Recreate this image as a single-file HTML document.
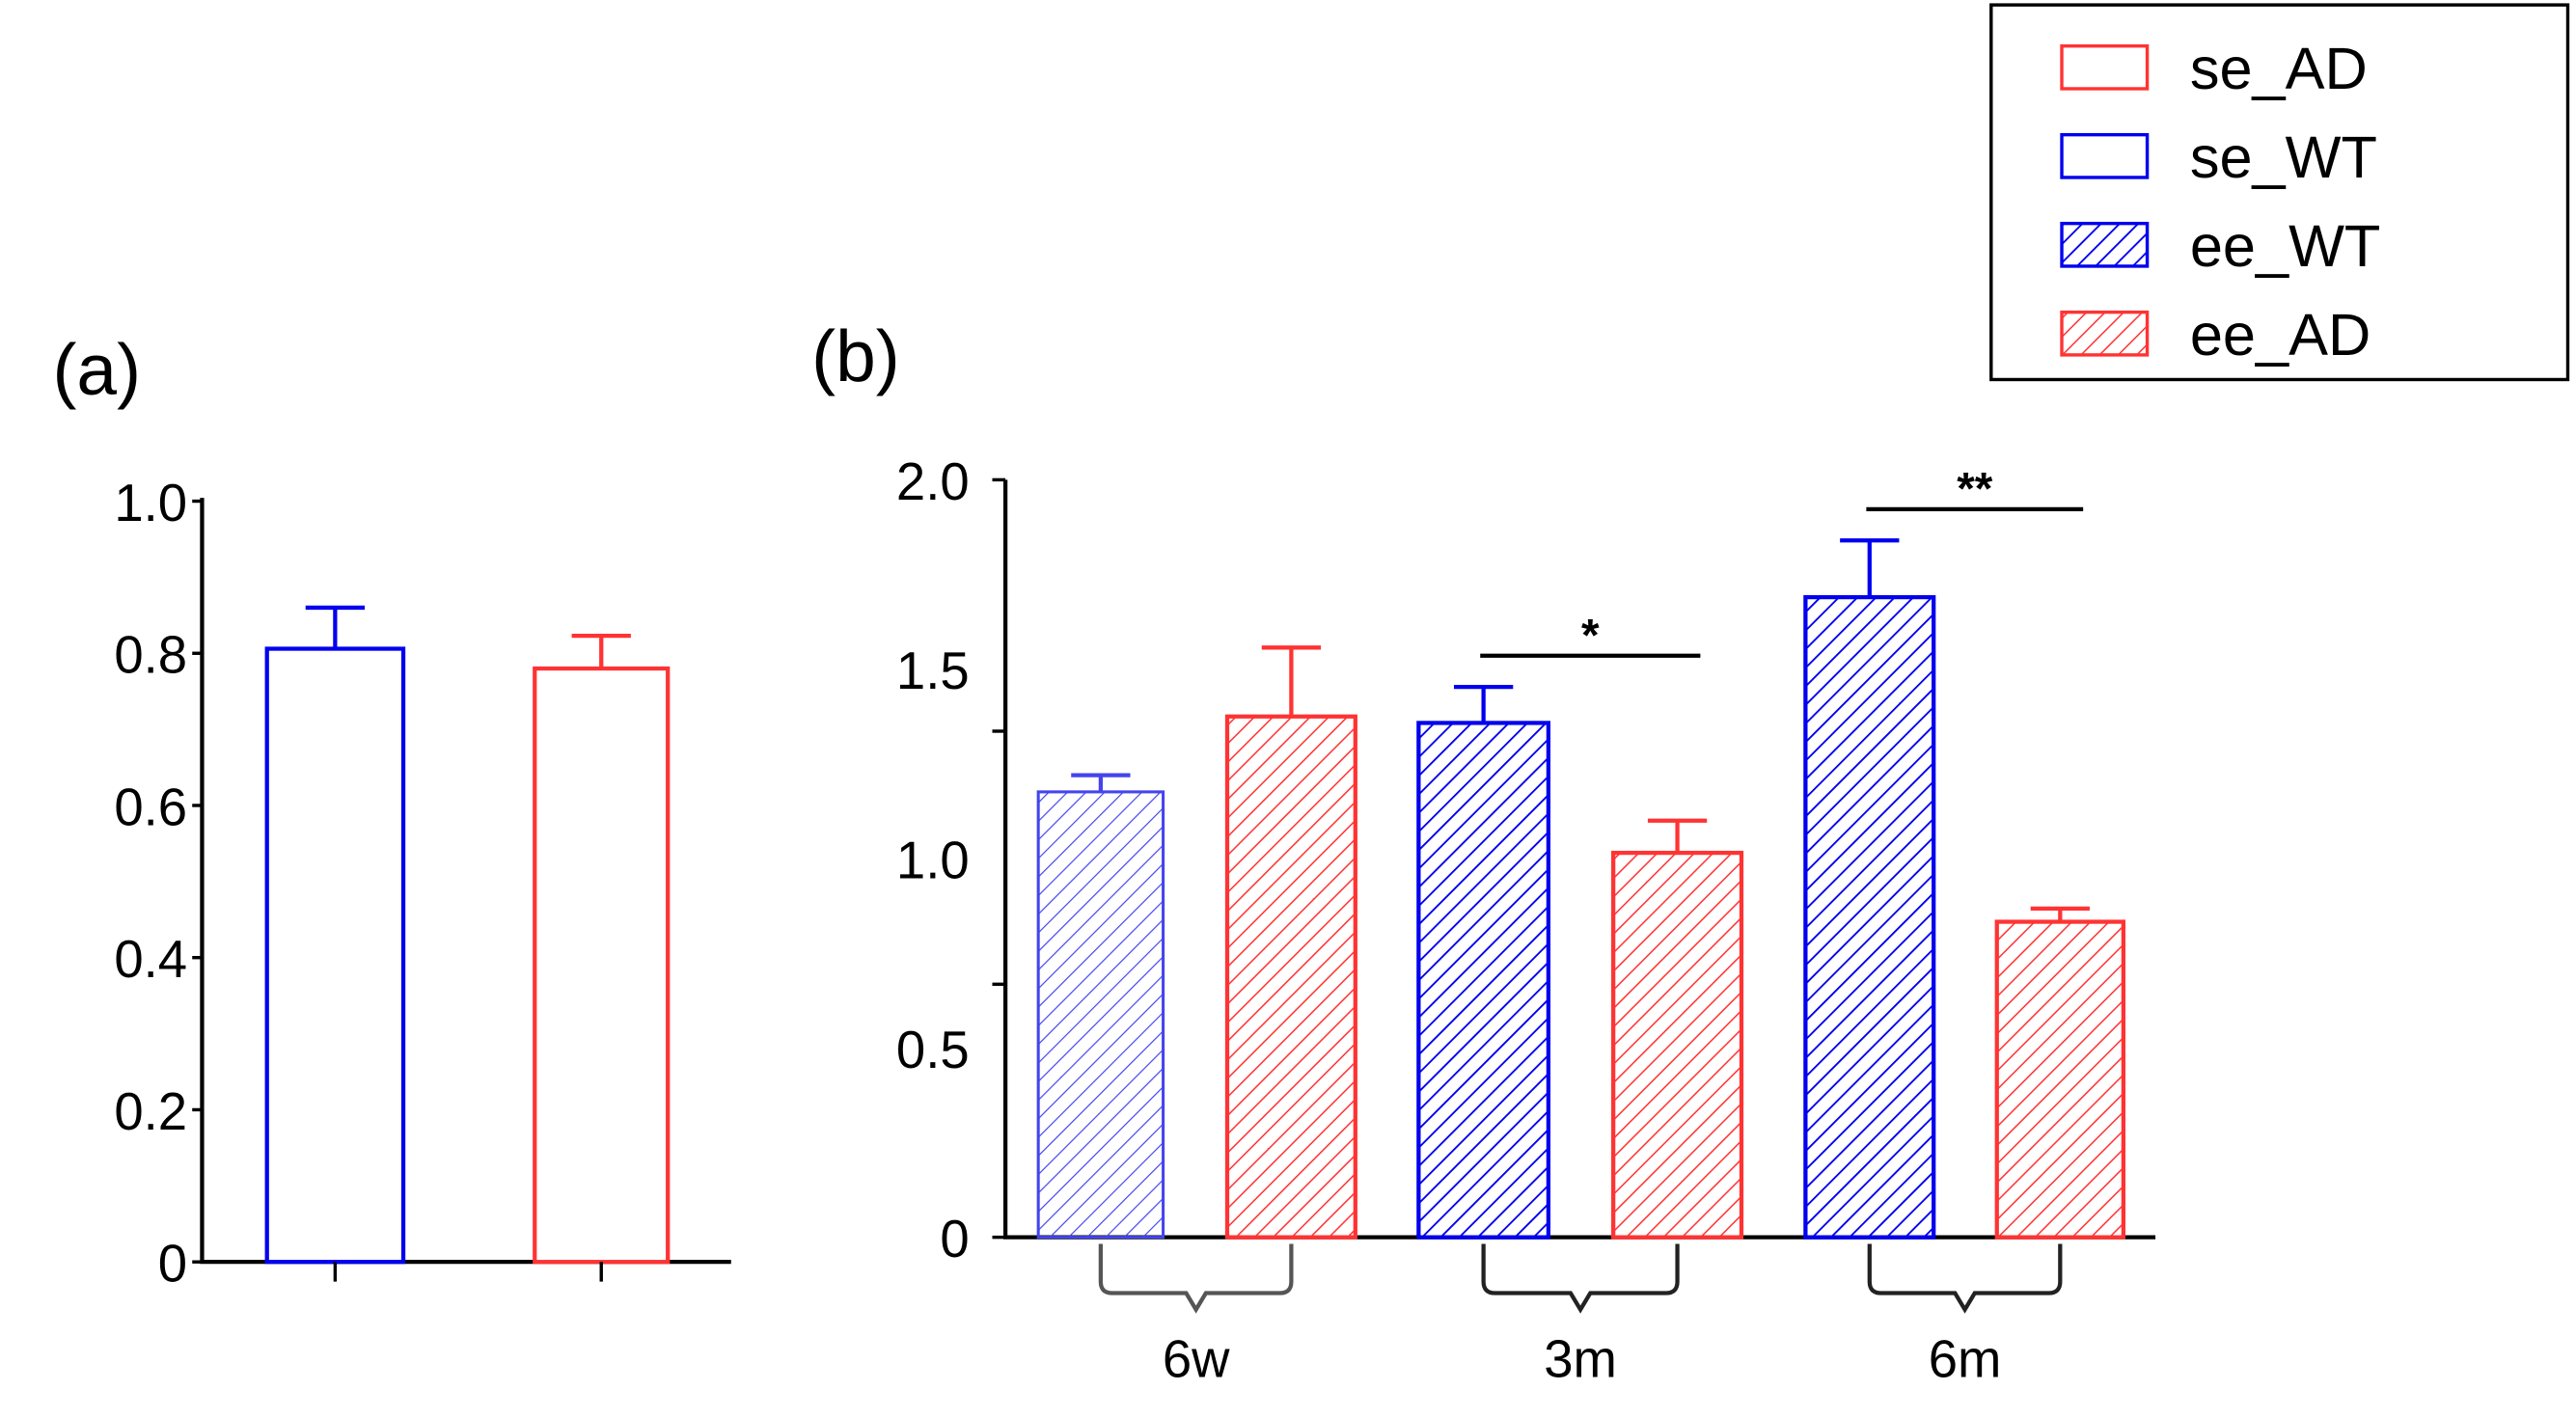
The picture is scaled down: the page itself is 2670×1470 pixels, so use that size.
<!DOCTYPE html>
<html><head><meta charset="utf-8"><style>
html,body{margin:0;padding:0;background:#fff;width:2670px;height:1470px;overflow:hidden}
svg{display:block}
text{font-family:"Liberation Sans",Arial,sans-serif;fill:#000}
</style></head><body>
<svg id="fig" width="2670" height="1470" viewBox="0 0 1568 863" preserveAspectRatio="none" xmlns="http://www.w3.org/2000/svg">
<defs>
<pattern id="hb" patternUnits="userSpaceOnUse" width="8" height="8" patternTransform="rotate(45)"><line x1="0" y1="0" x2="0" y2="8" stroke="#0000ee" stroke-width="2.2"/></pattern>
<pattern id="hbl" patternUnits="userSpaceOnUse" width="8" height="8" patternTransform="rotate(45)"><line x1="0" y1="0" x2="0" y2="8" stroke="#4444ee" stroke-width="1.4"/></pattern>
<pattern id="hr" patternUnits="userSpaceOnUse" width="8" height="8" patternTransform="rotate(45)"><line x1="0" y1="0" x2="0" y2="8" stroke="#ff3333" stroke-width="1.8"/></pattern>
</defs>
<g id="legend">
<rect x="1212" y="3" width="351" height="228" fill="#fff" stroke="#000" stroke-width="2"/>
<g><rect x="1255" y="28" width="52" height="26" fill="#fff" stroke="#ff3333" stroke-width="2"/><text x="1333" y="54" font-size="36">se_AD</text></g>
<g><rect x="1255" y="82" width="52" height="26" fill="#fff" stroke="#0000ee" stroke-width="2"/><text x="1333" y="108" font-size="36">se_WT</text></g>
<g><rect x="1255" y="136" width="52" height="26" fill="url(#hb)" stroke="#0000ee" stroke-width="2"/><text x="1333" y="162" font-size="36">ee_WT</text></g>
<g><rect x="1255" y="190" width="52" height="26" fill="url(#hr)" stroke="#ff3333" stroke-width="2"/><text x="1333" y="216" font-size="36">ee_AD</text></g>
</g>
<text x="32" y="240" font-size="44">(a)</text>
<text x="494" y="232" font-size="44">(b)</text>
<g id="ca"></g>
<g id="cb"></g>
</svg>
<script>
// Panel (a)
const aCats = ['se_WT','se_AD'];
const aVals = [0.806, 0.78];
const aErr = [0.86, 0.823];
const aTicks = [0, 0.2, 0.4, 0.6, 0.8, 1.0];
const aTickLabels = ['0','0.2','0.4','0.6','0.8','1.0'];
// Panel (b)
const bCats = ['6w_WT','6w_AD','3m_WT','3m_AD','6m_WT','6m_AD'];
const bVals = [1.176, 1.375, 1.358, 1.015, 1.69, 0.833];
const bErr = [1.22, 1.557, 1.453, 1.10, 1.84, 0.868];
const bGroups = ['6w','3m','6m'];
const bTicks = [0, 0.5, 1.0, 1.5, 2.0];
const bTickLabels = ['0','0.5','1.0','1.5','2.0'];
const bSig = ['','*','**'];

const NS='http://www.w3.org/2000/svg';
function mk(p,tag,at){const e=document.createElementNS(NS,tag);for(const k in at)e.setAttribute(k,at[k]);p.appendChild(e);return e;}

// panel a
const ga=document.getElementById('ca');
const ya=v=>768-v*463;
const xa=i=>204+i*162;
const aAxis=mk(ga,'path',{d:'M123,303 V768 H445',fill:'none',stroke:'#000','stroke-width':2.5});


aTicks.forEach((t,i)=>{
  mk(ga,'line',{x1:117,x2:123,y1:ya(t),y2:ya(t),stroke:'#000','stroke-width':2});
  const tx=mk(ga,'text',{x:114,y:ya(t)+12,'font-size':32,'text-anchor':'end'});
  tx.textContent=aTickLabels[i];
  
  
});
aCats.forEach((c,i)=>{
  const col=i===0?'#0000ee':'#ff3333';
  const w=i===0?83:81;
  const cx=xa(i);
  const r=mk(ga,'rect',{x:cx-w/2,y:ya(aVals[i]),width:w,height:768-ya(aVals[i]),fill:'#fff',stroke:col,'stroke-width':2.5});
  
  
  mk(ga,'path',{d:`M${cx},${ya(aVals[i])} V${ya(aErr[i])} M${cx-18},${ya(aErr[i])} H${cx+18}`,stroke:col,'stroke-width':2.5,fill:'none'});
  mk(ga,'line',{x1:cx,x2:cx,y1:768,y2:780,stroke:'#000','stroke-width':2});
});

// panel b
const gb=document.getElementById('cb');
const yb=v=>753-v*230.5;
const bx=[670,786,903,1021,1138,1254];
const bw=[76,78,79,78,78,77];
const bAxis=mk(gb,'path',{d:'M612,292 V753 H1312',fill:'none',stroke:'#000','stroke-width':2.5});


[292,445,599,753].forEach(y=>mk(gb,'line',{x1:604,x2:612,y1:y,y2:y,stroke:'#000','stroke-width':2}));
bTicks.forEach((t,i)=>{
  const tx=mk(gb,'text',{x:590,y:yb(t)+12,'font-size':32,'text-anchor':'end'});
  tx.textContent=bTickLabels[i];
  
  
});
bCats.forEach((c,i)=>{
  const wt=i%2===0;
  const col=wt?'#0000ee':'#ff3333';
  const fill=i===0?'url(#hbl)':(wt?'url(#hb)':'url(#hr)');
  const cx=bx[i],w=bw[i];
  const r=mk(gb,'rect',{x:cx-w/2,y:yb(bVals[i]),width:w,height:753-yb(bVals[i]),fill:fill,stroke:i===0?'#4444ee':col,'stroke-width':i===0?1.8:2.5});
  
  
  mk(gb,'path',{d:`M${cx},${yb(bVals[i])} V${yb(bErr[i])} M${cx-18},${yb(bErr[i])} H${cx+18}`,stroke:i===0?'#4444ee':col,'stroke-width':2.5,fill:'none'});
});
bGroups.forEach((g,k)=>{
  const x1=bx[2*k],x2=bx[2*k+1],m=(x1+x2)/2;
  const br=mk(gb,'path',{d:`M${x1},757 V780 Q${x1},787 ${x1+7},787 H${m-6} L${m},797 L${m+6},787 H${x2-7} Q${x2},787 ${x2},780 V757`,fill:'none',stroke:k===0?'#555':'#222','stroke-width':2.5});
  
  
  const t=mk(gb,'text',{x:m,y:838,'font-size':32,'text-anchor':'middle'});
  t.textContent=g;
  
  
  if(bSig[k]){
    const maxE=Math.max(bErr[2*k],bErr[2*k+1]);
    const ly=yb(maxE)-19;
    mk(gb,'line',{x1:x1-2,x2:x2+14,y1:ly,y2:ly,stroke:'#000','stroke-width':2.5});
    const s=mk(gb,'text',{x:m+6,y:ly-3,'font-size':28,'text-anchor':'middle','font-weight':'bold'});
    s.textContent=bSig[k];
    
    
  }
});
</script>
</body></html>
